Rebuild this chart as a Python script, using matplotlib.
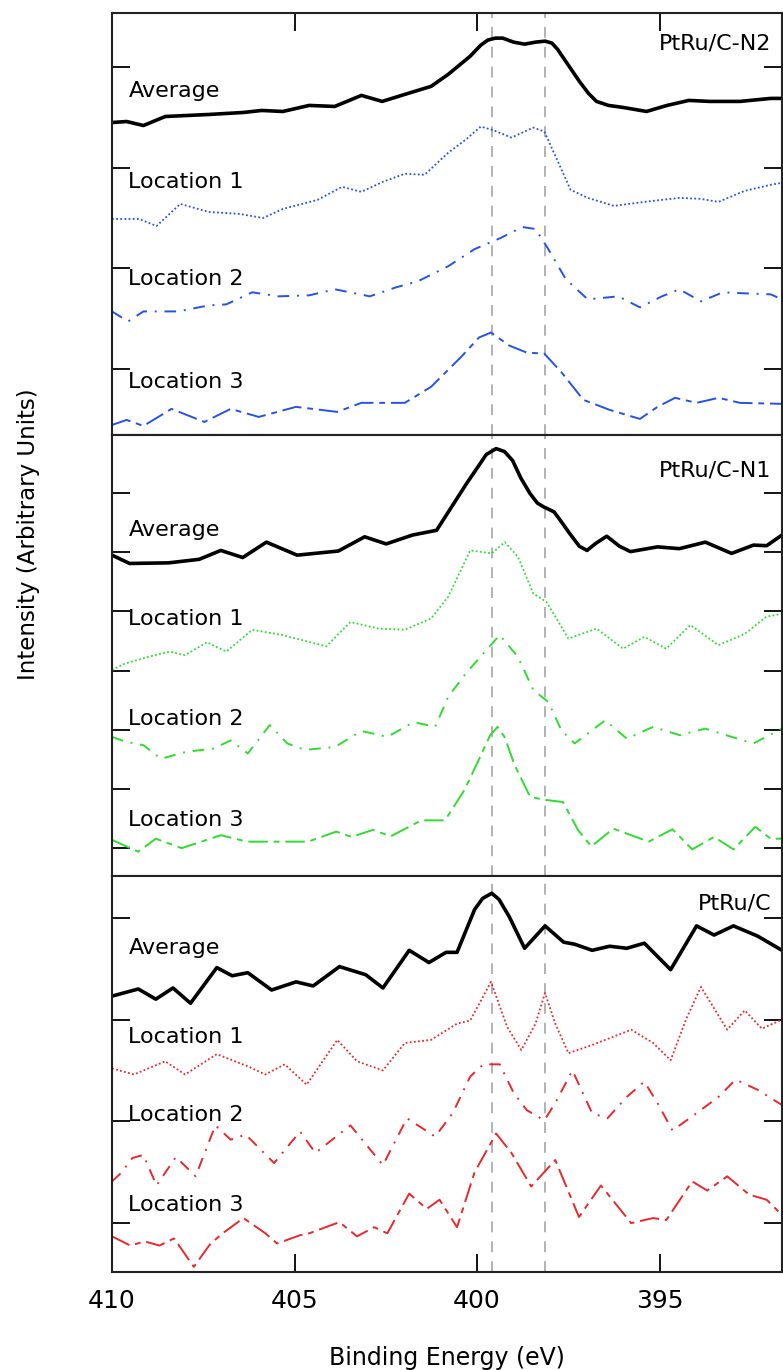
import matplotlib
matplotlib.use('agg')
import matplotlib.pyplot as plt

# binding energies (eV) and offset intensities, per panel

# PtRu/C-N2
N2_AVG_E = [410, 409.6, 409.14, 408.54, 407.35, 406.4, 405.9, 405.32, 404.6, 403.9, 403.17, 402.6, 401.98,
            401.26, 400.79, 400.19, 399.9, 399.71, 399.5, 399.3, 399.0, 398.7, 398.4, 398.14, 397.95, 397.8,
            397.5, 397.2, 396.95, 396.73, 396.4, 396.0, 395.36, 394.8, 394.2, 393.63, 392.8, 391.96, 391.65]
N2_AVG_I = [2.45, 2.46, 2.42, 2.51, 2.53, 2.55, 2.57, 2.56, 2.62, 2.61, 2.72, 2.66, 2.73,
            2.81, 2.93, 3.11, 3.22, 3.27, 3.29, 3.29, 3.25, 3.23, 3.25, 3.26, 3.24, 3.18,
            3.02, 2.86, 2.74, 2.66, 2.62, 2.60, 2.56, 2.62, 2.67, 2.66, 2.66, 2.69, 2.69]
N2_L1_E = [410, 409.26, 408.78, 408.13, 407.35, 406.5, 405.86, 405.32, 404.37, 403.7, 403.17, 402.58, 401.98,
           401.44, 400.79, 400.31, 399.9, 399.53, 399.06, 398.46, 398.16, 397.86, 397.44, 396.97, 396.25,
           395.42, 394.46, 393.87, 393.39, 392.67, 391.96, 391.65]
N2_L1_I = [1.49, 1.49, 1.42, 1.64, 1.56, 1.54, 1.50, 1.59, 1.68, 1.81, 1.76, 1.86, 1.94,
           1.93, 2.15, 2.28, 2.41, 2.37, 2.30, 2.40, 2.36, 2.12, 1.78, 1.70, 1.62,
           1.66, 1.70, 1.69, 1.66, 1.77, 1.83, 1.85]
N2_L2_E = [410, 409.56, 409.14, 408.19, 407.35, 406.87, 406.16, 405.44, 404.6, 403.89, 402.94, 402.22, 401.62,
           400.79, 400.07, 399.36, 398.76, 398.4, 398.05, 397.57, 396.97, 396.13, 395.54, 394.94, 394.46,
           393.87, 393.27, 392.67, 391.96, 391.65]
N2_L2_I = [0.57, 0.47, 0.57, 0.57, 0.63, 0.64, 0.76, 0.72, 0.73, 0.79, 0.72, 0.81, 0.87,
           1.02, 1.19, 1.30, 1.41, 1.39, 1.19, 0.89, 0.69, 0.72, 0.61, 0.72, 0.79,
           0.67, 0.76, 0.75, 0.74, 0.69]
N2_L3_E = [410, 409.6, 409.14, 408.37, 407.47, 406.75, 405.98, 404.96, 403.83, 403.17, 401.98, 401.26, 400.43,
           399.95, 399.62, 399.12, 398.64, 398.16, 397.68, 397.09, 396.37, 395.54, 395.06, 394.58, 393.99,
           393.39, 392.8, 391.65]
N2_L3_I = [-0.56, -0.51, -0.57, -0.40, -0.53, -0.40, -0.48, -0.38, -0.43, -0.34, -0.34, -0.18, 0.12,
           0.31, 0.36, 0.23, 0.16, 0.15, -0.04, -0.31, -0.41, -0.50, -0.38, -0.29, -0.34,
           -0.29, -0.34, -0.35]

# PtRu/C-N1
N1_AVG_E = [410, 409.52, 408.45, 407.61, 407.02, 406.42, 405.77, 404.93, 403.8, 403.08, 402.49, 401.77, 401.11,
            400.58, 400.3, 399.98, 399.75, 399.48, 399.25, 399.03, 398.8, 398.55, 398.35, 398.19, 397.89, 397.7,
            397.47, 397.2, 396.99, 396.75, 396.45, 396.1, 395.8, 395.06, 394.46, 393.75, 393.03, 392.43, 392.07,
            391.65]
N1_AVG_I = [4.95, 4.81, 4.82, 4.88, 5.03, 4.91, 5.17, 4.95, 5.02, 5.26, 5.14, 5.29, 5.37,
            5.88, 6.15, 6.44, 6.65, 6.75, 6.70, 6.55, 6.25, 5.99, 5.83, 5.77, 5.68, 5.52,
            5.32, 5.10, 5.03, 5.15, 5.27, 5.10, 5.01, 5.09, 5.06, 5.17, 4.98, 5.12, 5.11,
            5.29]
N1_L1_E = [410, 409.64, 409.02, 408.42, 408.0, 407.4, 406.87, 406.16, 405.32, 404.13, 403.47, 402.7, 401.98,
           401.26, 400.79, 400.19, 399.6, 399.24, 398.88, 398.46, 398.1, 397.5, 396.73, 396.0, 395.42,
           394.82, 394.16, 393.39, 392.67, 392.08, 391.65]
N1_L1_I = [3.01, 3.12, 3.23, 3.32, 3.26, 3.48, 3.32, 3.69, 3.60, 3.41, 3.82, 3.71, 3.69,
           3.88, 4.25, 5.03, 4.98, 5.17, 4.92, 4.30, 4.16, 3.54, 3.71, 3.37, 3.57,
           3.37, 3.77, 3.43, 3.62, 3.91, 3.96]
N1_L2_E = [410, 409.64, 409.14, 408.66, 407.95, 407.23, 406.75, 406.28, 405.68, 405.2, 404.72, 403.89, 403.17,
           402.46, 401.74, 401.15, 400.79, 400.31, 399.83, 399.38, 398.88, 398.46, 398.05, 397.69, 397.33,
           396.49, 395.9, 395.18, 394.46, 393.75, 393.03, 392.43, 391.65]
N1_L2_I = [1.88, 1.80, 1.74, 1.51, 1.63, 1.68, 1.82, 1.60, 2.08, 1.77, 1.66, 1.71, 1.98,
           1.88, 2.13, 2.05, 2.56, 2.95, 3.29, 3.60, 3.23, 2.67, 2.47, 1.99, 1.77,
           2.16, 1.85, 2.05, 1.91, 2.02, 1.88, 1.77, 2.02]
N1_L3_E = [410, 409.28, 408.8, 408.09, 407.02, 406.3, 404.63, 403.86, 403.44, 402.85, 402.37, 401.53, 400.88,
           400.35, 399.98, 399.65, 399.44, 399.25, 398.97, 398.55, 398.19, 397.65, 397.23, 396.87, 396.27,
           395.3, 394.65, 394.11, 393.51, 392.98, 392.38, 391.96, 391.65]
N1_L3_I = [0.14, -0.06, 0.16, 0.0, 0.22, 0.11, 0.11, 0.28, 0.19, 0.31, 0.20, 0.47, 0.47,
           0.98, 1.46, 1.90, 2.05, 1.88, 1.40, 0.87, 0.82, 0.78, 0.30, 0.03, 0.33,
           0.11, 0.32, -0.02, 0.19, -0.02, 0.36, 0.16, 0.16]

# PtRu/C
C_AVG_E = [410, 409.28, 408.8, 408.33, 407.85, 407.13, 406.71, 406.28, 405.63, 404.96, 404.49, 403.77, 403.05,
           402.58, 401.86, 401.32, 400.85, 400.55, 400.07, 399.85, 399.6, 399.4, 399.12, 398.7, 398.14, 397.63,
           397.33, 396.85, 396.37, 395.9, 395.42, 394.7, 393.99, 393.51, 392.98, 392.32, 391.65]
C_AVG_I = [2.23, 2.30, 2.20, 2.31, 2.16, 2.51, 2.43, 2.46, 2.29, 2.37, 2.33, 2.52, 2.44,
           2.31, 2.68, 2.56, 2.66, 2.66, 3.08, 3.19, 3.24, 3.18, 3.01, 2.70, 2.92, 2.76,
           2.74, 2.68, 2.72, 2.70, 2.75, 2.49, 2.92, 2.83, 2.92, 2.82, 2.68]
C_L1_E = [410, 409.4, 408.54, 408.0, 407.13, 406.28, 405.8, 405.27, 404.67, 403.83, 403.29, 402.58, 401.98,
          401.26, 400.55, 400.19, 399.62, 399.18, 398.79, 398.4, 398.14, 397.86, 397.5, 396.85, 395.78,
          395.18, 394.7, 394.28, 393.87, 393.15, 392.67, 392.2, 391.65]
C_L1_I = [1.52, 1.46, 1.59, 1.46, 1.66, 1.54, 1.46, 1.56, 1.36, 1.80, 1.59, 1.50, 1.77,
          1.80, 1.96, 1.99, 2.37, 1.93, 1.70, 1.96, 2.26, 1.96, 1.67, 1.75, 1.90,
          1.77, 1.60, 2.00, 2.32, 1.90, 2.09, 1.91, 2.00]
C_L2_E = [410, 409.76, 409.44, 409.14, 408.78, 408.25, 407.71, 407.17, 406.75, 406.34, 405.56, 404.85, 404.43,
          403.47, 402.58, 401.92, 401.15, 400.67, 400.19, 399.83, 399.38, 399.0, 398.64, 398.16, 397.86,
          397.39, 396.85, 396.43, 395.9, 395.42, 395.06, 394.65, 393.99, 393.39, 392.92, 392.32, 391.65]
C_L2_I = [0.41, 0.49, 0.64, 0.67, 0.37, 0.65, 0.46, 0.96, 0.82, 0.87, 0.59, 0.90, 0.69,
          0.96, 0.57, 1.03, 0.85, 1.08, 1.44, 1.56, 1.56, 1.28, 1.11, 1.01, 1.18,
          1.50, 1.08, 1.03, 1.24, 1.39, 1.18, 0.91, 1.08, 1.24, 1.41, 1.31, 1.16]
C_L3_E = [410, 409.5, 409.1, 408.7, 408.3, 407.76, 407.3, 406.93, 406.4, 405.8, 405.48, 404.86, 404.6, 403.77,
          403.29, 402.82, 402.46, 401.86, 401.38, 401.03, 400.55, 400.07, 399.48, 399.06, 398.52, 397.86,
          397.21, 396.61, 395.78, 395.18, 394.82, 394.11, 393.7, 393.15, 392.55, 392.07, 391.65]
C_L3_I = [-0.13, -0.22, -0.18, -0.22, -0.15, -0.43, -0.20, -0.09, 0.05, -0.10, -0.20, -0.12, -0.10, 0.01,
          -0.13, -0.04, -0.10, 0.29, 0.14, 0.23, -0.04, 0.50, 0.88, 0.69, 0.36, 0.62,
          0.06, 0.37, 0.00, 0.05, 0.03, 0.41, 0.32, 0.46, 0.28, 0.23, 0.08]

PANEL_NAMES = ['PtRu/C-N2', 'PtRu/C-N1', 'PtRu/C']
TRACE_NAMES = ['Average', 'Location 1', 'Location 2', 'Location 3']
REF_LINES = [399.59, 398.14]
X_TICKS = [410, 405, 400, 395]

BLUE, GREEN, RED = '#2452e6', '#2fdc2f', '#e8282c'
STYLES = [dict(color='black', lw=2.6, ls='-'),
          dict(lw=1.3, ls=(0, (1, 1.3))),
          dict(lw=1.4, ls=(0, (6, 4, 1, 4))),
          dict(lw=1.4, ls=(0, (10, 3, 3, 3)))]


def draw_panel(ax, traces, color, name, name_y, label_y, ylim, ticks):
    for i, (e, y) in enumerate(traces):
        st = dict(STYLES[i])
        if i > 0:
            st['color'] = color
        ax.plot(e, y, solid_capstyle='round', solid_joinstyle='round',
                dash_joinstyle='round', **st)
    for xv in REF_LINES:
        ax.axvline(xv, color='#acacac', lw=1.3, ls=(0, (6, 5)), zorder=0)
    for txt, ly in zip(TRACE_NAMES, label_y):
        ax.text(409.55, ly, txt, fontsize=16, va='center', ha='left')
    ax.text(391.95, name_y, name, fontsize=16, ha='right', va='center')
    ax.set_xlim(410, 391.65)
    ax.set_ylim(*ylim)
    ax.set_yticks(ticks)
    ax.set_yticklabels([])
    ax.tick_params(axis='y', direction='in', length=13, width=1.3, left=True, right=True)
    ax.tick_params(axis='x', direction='in', length=13, width=1.3, labelsize=18, pad=12)
    for sp in ax.spines.values():
        sp.set_linewidth(1.5)
        sp.set_color('#222222')


fig = plt.figure(figsize=(7.83, 13.7), dpi=100)
left, width = 112 / 783, 670 / 783

ax_top = fig.add_axes([left, 935 / 1370, width, 422 / 1370])
ax_mid = fig.add_axes([left, 494 / 1370, width, 441 / 1370])
ax_bot = fig.add_axes([left, 98 / 1370, width, 396 / 1370])

draw_panel(ax_top, [(N2_AVG_E, N2_AVG_I), (N2_L1_E, N2_L1_I), (N2_L2_E, N2_L2_I), (N2_L3_E, N2_L3_I)],
           BLUE, PANEL_NAMES[0], 3.24, [2.76, 1.86, 0.89, -0.13], (-0.66, 3.54), [0, 1, 2, 3])
draw_panel(ax_mid, [(N1_AVG_E, N1_AVG_I), (N1_L1_E, N1_L1_I), (N1_L2_E, N1_L2_I), (N1_L3_E, N1_L3_I)],
           GREEN, PANEL_NAMES[1], 6.38, [5.38, 3.88, 2.19, 0.47], (-0.47, 6.98), [0, 1, 2, 3, 4, 5, 6])
draw_panel(ax_bot, [(C_AVG_E, C_AVG_I), (C_L1_E, C_L1_I), (C_L2_E, C_L2_I), (C_L3_E, C_L3_I)],
           RED, PANEL_NAMES[2], 3.14, [2.70, 1.83, 1.06, 0.18], (-0.48, 3.41), [0, 1, 2, 3])

ax_top.set_xticks(X_TICKS[1:])
ax_top.tick_params(axis='x', top=True, bottom=False, labelbottom=False)
ax_mid.set_xticks([])
ax_bot.set_xticks(X_TICKS)
ax_bot.tick_params(axis='x', top=False, bottom=True)
ax_bot.set_xlabel('Binding Energy (eV)', fontsize=17, labelpad=24)

fig.text(0.036, 0.61, 'Intensity (Arbitrary Units)', rotation=90, fontsize=16.5,
         ha='center', va='center')

fig.savefig('out.png', dpi=100, facecolor='white')
